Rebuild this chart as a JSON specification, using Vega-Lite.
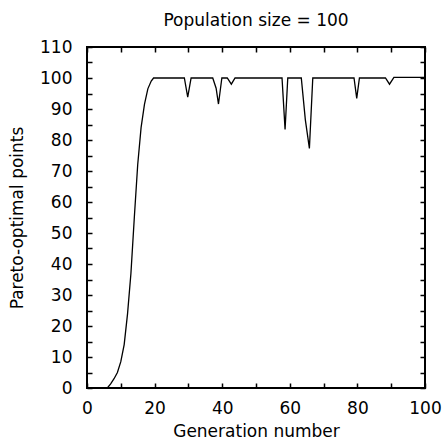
{
  "$schema": "https://vega.github.io/schema/vega-lite/v6.json",
  "width": 338,
  "height": 341,
  "autosize": {"type": "none"},
  "padding": {"left": 87, "top": 47, "right": 23, "bottom": 54},
  "background": "white",
  "title": {"text": "Population size = 100", "fontSize": 17, "font": "DejaVu Sans", "fontWeight": "normal", "color": "#000", "offset": 8, "anchor": "middle"},
  "data": {"values": [
    {"generation": 6, "points": 0},
    {"generation": 7, "points": 1.3},
    {"generation": 8, "points": 3},
    {"generation": 9, "points": 5},
    {"generation": 10, "points": 8.5},
    {"generation": 11, "points": 14},
    {"generation": 12, "points": 24},
    {"generation": 13, "points": 37},
    {"generation": 14, "points": 55},
    {"generation": 15, "points": 72},
    {"generation": 16, "points": 84},
    {"generation": 17, "points": 91.5},
    {"generation": 18, "points": 96.5},
    {"generation": 19, "points": 99},
    {"generation": 19.7, "points": 100},
    {"generation": 28.8, "points": 100},
    {"generation": 29.8, "points": 93.8},
    {"generation": 30.8, "points": 100},
    {"generation": 37.2, "points": 100},
    {"generation": 38.2, "points": 96.7},
    {"generation": 38.9, "points": 91.6},
    {"generation": 39.9, "points": 100},
    {"generation": 41.5, "points": 100},
    {"generation": 42.7, "points": 98},
    {"generation": 43.8, "points": 100},
    {"generation": 57.7, "points": 100},
    {"generation": 58.6, "points": 83.4},
    {"generation": 59.4, "points": 100},
    {"generation": 63.4, "points": 100},
    {"generation": 64.6, "points": 86.5},
    {"generation": 65.8, "points": 77.3},
    {"generation": 66.8, "points": 100},
    {"generation": 79.0, "points": 100},
    {"generation": 79.8, "points": 93.4},
    {"generation": 80.6, "points": 100},
    {"generation": 88.3, "points": 100},
    {"generation": 89.5, "points": 98},
    {"generation": 90.8, "points": 100.2},
    {"generation": 100, "points": 100.2}
  ]},
  "config": {
    "view": {"stroke": "#000", "strokeWidth": 2, "fill": null},
    "axis": {
      "labelFont": "DejaVu Sans", "labelFontSize": 17, "labelColor": "#000",
      "titleFont": "DejaVu Sans", "titleFontSize": 17, "titleColor": "#000", "titleFontWeight": "normal",
      "domain": false, "ticks": false, "grid": true, "gridColor": "#000", "gridOpacity": 1, "gridWidth": 1.5,
      "labelFlush": false, "labelOverlap": false, "zindex": 2
    }
  },
  "mark": {"type": "line", "color": "#000", "strokeWidth": 1.3, "fill": null},
  "encoding": {
    "x": {"field": "generation", "type": "quantitative", "scale": {"domain": [0, 100], "nice": false},
      "axis": {"orient": "bottom", "zindex": 2, "values": [0, 10, 20, 30, 40, 50, 60, 70, 80, 90, 100], "gridDash": [5, 331, 5, 0], "labelExpr": "datum.value % 20 == 0 ? datum.label : ''", "title": "Generation number", "labelPadding": 12, "titlePadding": 7}},
    "y": {"field": "points", "type": "quantitative", "scale": {"domain": [0, 110], "nice": false},
      "axis": {"orient": "left", "zindex": 2, "values": [0, 5, 10, 15, 20, 25, 30, 35, 40, 45, 50, 55, 60, 65, 70, 75, 80, 85, 90, 95, 100, 105, 110], "gridDash": [5, 328, 5, 0], "labelExpr": "datum.value % 10 == 0 ? datum.label : ''", "title": "Pareto-optimal points", "labelPadding": 15, "titlePadding": 13}}
  }
}
